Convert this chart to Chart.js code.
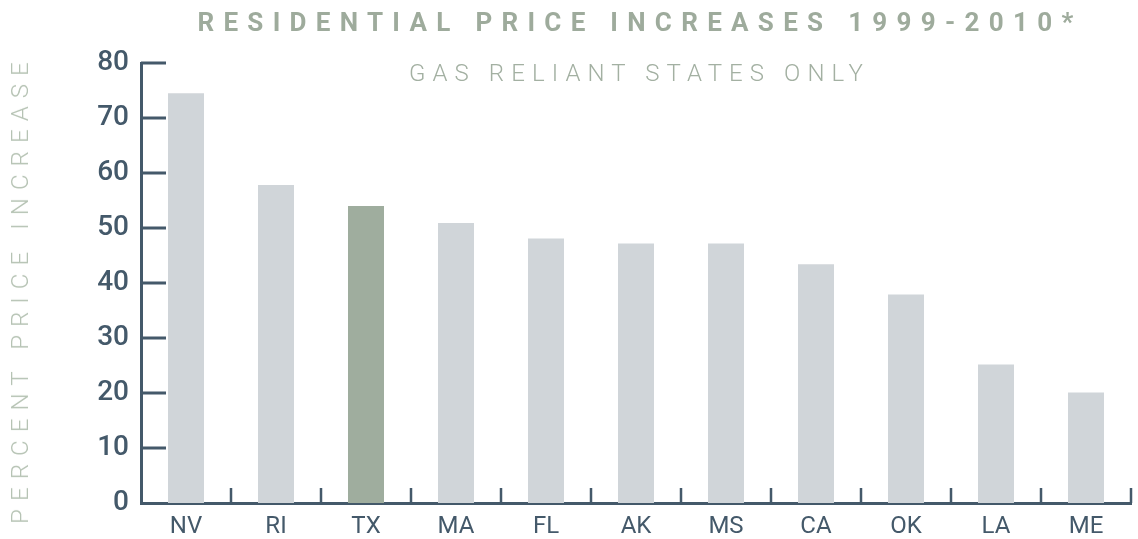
<!DOCTYPE html>
<html>
<head>
<meta charset="utf-8">
<script src="https://cdn.jsdelivr.net/npm/chart.js@4.4.1/dist/chart.umd.min.js"></script>
<style>
  html, body { margin: 0; padding: 0; background: #fff; }
  #wrap { position: relative; width: 1138px; height: 539px; }
  .txt { position: absolute; font-family: Roboto, sans-serif; white-space: nowrap; }
  #title { left: 0; width: 1280px; top: 7px; text-align: center; font-size: 26px; font-weight: 700; letter-spacing: 9.3px; color: #9eab9c; }
  #subtitle { left: 0; width: 1279px; top: 59px; text-align: center; font-size: 24px; font-weight: 300; letter-spacing: 7.1px; color: #a3b0a2; }
  #ytitle { left: 20px; top: 289px; transform: translate(-50%, -50%) rotate(-90deg); font-size: 24px; font-weight: 300; letter-spacing: 8.1px; color: #b6c3b4; }
</style>
</head>
<body>
<div id="wrap">
  <canvas id="chart" width="1138" height="539"></canvas>
  <div class="txt" id="title">RESIDENTIAL PRICE INCREASES 1999-2010*</div>
  <div class="txt" id="subtitle">GAS RELIANT STATES ONLY</div>
  <div class="txt" id="ytitle">PERCENT PRICE INCREASE</div>
</div>
<script>
const states = ['NV', 'RI', 'TX', 'MA', 'FL', 'AK', 'MS', 'CA', 'OK', 'LA', 'ME'];
const increases = [74.5, 57.8, 54.0, 50.9, 48.1, 47.2, 47.2, 43.4, 37.9, 25.2, 20.1];
const yTicks = [0, 10, 20, 30, 40, 50, 60, 70, 80];
const highlight = 'TX';

const axisColor = '#44596a';

// tick marks drawn inward, the way the original has them
const innerTicks = {
  id: 'innerTicks',
  afterDraw(chart) {
    const { ctx, chartArea, scales } = chart;
    ctx.save();
    ctx.strokeStyle = axisColor;
    ctx.lineWidth = 3;
    ctx.beginPath();
    scales.y.ticks.forEach(t => {
      if (t.value === 0) return;
      const y = scales.y.getPixelForValue(t.value);
      ctx.moveTo(chartArea.left, y);
      ctx.lineTo(chartArea.left + 25, y);
    });
    ctx.stroke();
    ctx.lineWidth = 2.5;
    ctx.beginPath();
    const n = states.length;
    const half = (scales.x.getPixelForValue(1) - scales.x.getPixelForValue(0)) / 2;
    for (let i = 0; i < n; i++) {
      const x = scales.x.getPixelForValue(i) + half;
      ctx.moveTo(x, chartArea.bottom);
      ctx.lineTo(x, chartArea.bottom - 15);
    }
    ctx.stroke();
    ctx.restore();
  }
};

new Chart(document.getElementById('chart'), {
  type: 'bar',
  data: {
    labels: states,
    datasets: [{
      data: increases,
      backgroundColor: c => states[c.dataIndex] === highlight ? '#9fad9e' : '#d0d5d9',
      barPercentage: 0.4,
      categoryPercentage: 1
    }]
  },
  options: {
    responsive: false,
    animation: false,
    layout: { padding: { left: 0, right: 7, top: 63, bottom: 0 } },
    plugins: { legend: { display: false }, tooltip: { enabled: false } },
    scales: {
      x: {
        grid: { display: false, drawTicks: false },
        border: { color: axisColor, width: 3 },
        ticks: { color: axisColor, padding: 10, font: { family: 'Roboto', size: 24, weight: '400' } },
        afterFit: s => { s.height = 36; }
      },
      y: {
        min: 0,
        max: 80,
        afterBuildTicks: s => { s.ticks = yTicks.map(v => ({ value: v })); },
        grid: { display: false, drawTicks: false },
        border: { color: axisColor, width: 3 },
        ticks: { color: axisColor, padding: 12, font: { family: 'Roboto', size: 28, weight: '500' } },
        afterFit: s => { s.width = 141; }
      }
    }
  },
  plugins: [innerTicks]
});
</script>
</body>
</html>
